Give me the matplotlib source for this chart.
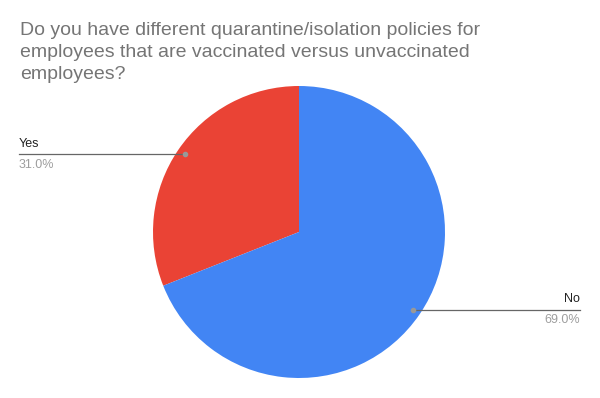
import numpy as np
import matplotlib.pyplot as plt

plt.rcParams['font.family'] = ['Liberation Sans', 'DejaVu Sans']

labels = ['Yes', 'No']
values = [31.0, 69.0]
colors = ['#EA4335', '#4285F4']
title = ('Do you have different quarantine/isolation policies for\n'
         'employees that are vaccinated versus unvaccinated\n'
         'employees?')

fig = plt.figure(figsize=(6, 3.98), dpi=100)
W, H = 600, 398
cx, cy, r = 299, 232, 146
ax = fig.add_axes([(cx - r) / W, (H - cy - r) / H, 2 * r / W, 2 * r / H])
wedges, _ = ax.pie(values, colors=colors, startangle=90, counterclock=True,
                   radius=1, wedgeprops=dict(linewidth=0))
ax.set_xlim(-1, 1)
ax.set_ylim(-1, 1)
ax.set_aspect('equal')
ax.axis('off')

fig.text(20 / W, 1 - 22 / H, title, fontsize=14, color='#757575',
         va='top', ha='left', linespacing=1.4)

# leader lines, label side in pixels
ends = {'Yes': 19, 'No': 580}
for w, lab, v in zip(wedges, labels, values):
    mid = np.deg2rad((w.theta1 + w.theta2) / 2)
    dx, dy = 0.945 * np.cos(mid), 0.945 * np.sin(mid)
    ex = (ends[lab] - cx) / r
    ax.plot([dx, ex], [dy, dy], color='#666666', lw=0.9, clip_on=False)
    ax.plot(dx, dy, 'o', color='#999999', ms=3, clip_on=False)
    ha = 'left' if ex < 0 else 'right'
    ax.text(ex, dy + 0.03, lab, fontsize=9, color='#222222', ha=ha, va='bottom')
    ax.text(ex, dy - 0.03, f'{v:.1f}%', fontsize=9, color='#9e9e9e', ha=ha, va='top')

fig.savefig('out.png', dpi=100, facecolor='white')
